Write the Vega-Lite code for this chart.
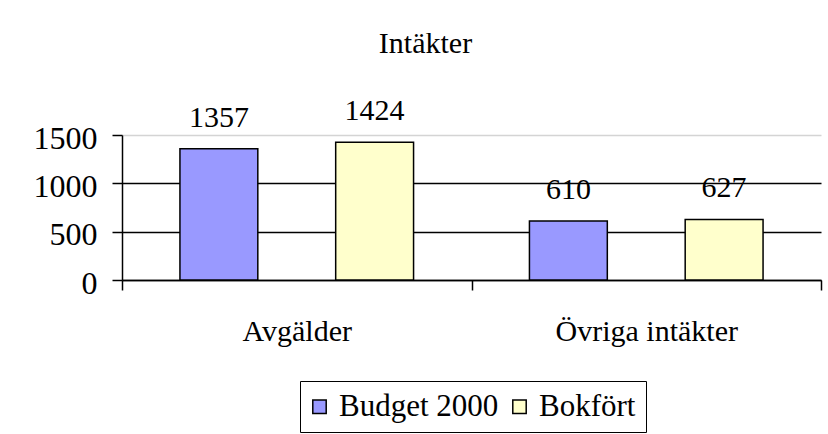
{
  "$schema": "https://vega.github.io/schema/vega-lite/v6.json",
  "width": 699,
  "height": 145,
  "autosize": {"type": "none"},
  "padding": {"left": 122, "top": 135, "right": 7, "bottom": 154},
  "background": "white",
  "title": {
    "text": "Intäkter",
    "anchor": "middle",
    "frame": "group",
    "dx": -46,
    "offset": 37,
    "font": "'Liberation Serif', 'Times New Roman', Times, serif",
    "fontSize": 30,
    "fontWeight": "normal",
    "color": "black"
  },
  "data": {
    "values": [
      {"kategori": "Avgälder", "serie": "Budget 2000", "belopp": 1357},
      {"kategori": "Avgälder", "serie": "Bokfört", "belopp": 1424},
      {"kategori": "Övriga intäkter", "serie": "Budget 2000", "belopp": 610},
      {"kategori": "Övriga intäkter", "serie": "Bokfört", "belopp": 627}
    ]
  },
  "encoding": {
    "x": {
      "field": "kategori",
      "type": "nominal",
      "sort": ["Avgälder", "Övriga intäkter"],
      "scale": {"paddingInner": 0, "paddingOuter": 0},
      "axis": {
        "title": null,
        "labelAngle": 0,
        "labelLimit": 0,
        "tickBand": "extent",
        "tickSize": 10,
        "tickColor": "black",
        "tickWidth": 1.5,
        "domainColor": "black",
        "domainWidth": 1.5,
        "labelPadding": 26,
        "labelFont": "'Liberation Serif', 'Times New Roman', Times, serif",
        "labelFontSize": 30,
        "labelColor": "black",
        "grid": false
      }
    },
    "xOffset": {
      "field": "serie",
      "type": "nominal",
      "sort": ["Budget 2000", "Bokfört"],
      "scale": {"paddingInner": 0.5, "paddingOuter": 0.372}
    },
    "y": {
      "field": "belopp",
      "type": "quantitative",
      "scale": {"domain": [0, 1500], "nice": false},
      "axis": {
        "title": null,
        "values": [0, 500, 1000, 1500],
        "format": "d",
        "tickSize": 10,
        "tickColor": "black",
        "tickWidth": 1.5,
        "domainColor": "black",
        "domainWidth": 1.5,
        "labelPadding": 15,
        "labelOffset": 3,
        "labelFont": "'Liberation Serif', 'Times New Roman', Times, serif",
        "labelFontSize": 32,
        "labelColor": "black",
        "grid": true,
        "gridOpacity": 1,
        "gridWidth": 1.5,
        "gridColor": {"condition": {"test": "datum.value == 1500", "value": "#d4d4d4"}, "value": "black"}
      }
    }
  },
  "layer": [
    {
      "mark": {"type": "bar", "stroke": "black", "strokeWidth": 1.5},
      "encoding": {
        "color": {
          "field": "serie",
          "type": "nominal",
          "sort": ["Budget 2000", "Bokfört"],
          "scale": {"domain": ["Budget 2000", "Bokfört"], "range": ["#9999FF", "#FFFFCC"]},
          "legend": {
            "title": null,
            "orient": "none",
            "legendX": 178,
            "legendY": 246,
            "direction": "horizontal",
            "strokeColor": "black",
            "padding": 10,
            "symbolType": "square",
            "symbolSize": 180,
            "symbolOffset": -6,
            "symbolStrokeColor": "black",
            "symbolStrokeWidth": 1.5,
            "symbolOpacity": 1,
            "labelFont": "'Liberation Serif', 'Times New Roman', Times, serif",
            "labelFontSize": 31,
            "labelColor": "black",
            "labelOffset": 4,
            "labelLimit": 0,
            "columnPadding": 10
          }
        }
      }
    },
    {
      "mark": {
        "type": "text",
        "baseline": "alphabetic",
        "dy": -22,
        "font": "'Liberation Serif', 'Times New Roman', Times, serif",
        "fontSize": 30,
        "color": "black"
      },
      "encoding": {"text": {"field": "belopp", "type": "quantitative"}}
    }
  ],
  "config": {"view": {"stroke": null}, "font": "'Liberation Serif', 'Times New Roman', Times, serif"}
}
